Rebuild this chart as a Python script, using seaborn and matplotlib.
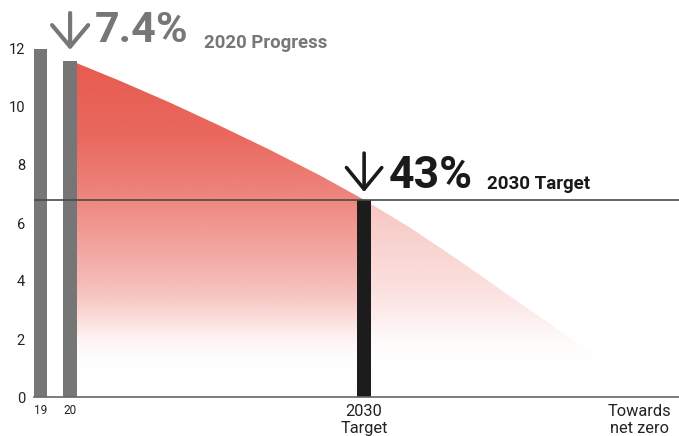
import numpy as np
import pandas as pd
import matplotlib
matplotlib.use("Agg")
import matplotlib.pyplot as plt
import seaborn as sns

# ---- data ----
bar_x = [2019, 2020, 2030]
bar_values = [12.0, 11.6, 6.8]
bar_names = ["2019", "2020", "2030 Target"]
bar_colors = ["#767676", "#767676", "#1c1c1c"]

curve_x = [2020.23, 2021.70, 2023.40, 2025.10, 2026.80, 2028.50, 2030.0,
           2031.56, 2033.27, 2034.97, 2036.67, 2037.79, 2039.80]
curve_y = [11.51, 10.90, 10.15, 9.35, 8.52, 7.64, 6.80,
           5.84, 4.68, 3.47, 2.28, 1.49, 0.0]

target_level = 6.8
tick_pos = [2019, 2020, 2030, 2039.35]
tick_labels = ["19", "20", "2030\nTarget", "Towards\nnet zero"]
y_ticks = [0, 2, 4, 6, 8, 10, 12]

progress_label = "7.4%"
progress_text = "2020 Progress"
target_label = "43%"
target_text = "2030 Target"

# ---- style ----
sns.set_style("white")
plt.rcParams['font.family'] = ['Roboto', 'DejaVu Sans']

XLIM = (2018.772, 2040.71)
YLIM = (0, 12)

fig = plt.figure(figsize=(6.79, 4.36), dpi=100)
ax = fig.add_axes([34 / 679, 39 / 436, 645 / 679, 348 / 436])

df = pd.DataFrame({"x": bar_x, "v": bar_values, "name": bar_names})
sns.barplot(data=df, x="x", y="v", hue="name",
            palette=dict(zip(bar_names, bar_colors)),
            native_scale=True, width=0.456, dodge=False, legend=False,
            errorbar=None, saturation=1, ax=ax, zorder=3, linewidth=0)

# gradient-filled area under the pathway curve
cx = np.array(curve_x)
cy = np.array(curve_y)
split = curve_x.index(2030.0)
left_poly = ax.fill_between(cx[:split + 1], cy[:split + 1], 0, color='none', lw=0)
right_poly = ax.fill_between(cx[split:], cy[split:], 0, color='none', lw=0)

yy = np.linspace(0, 12, 600)
alpha = np.interp(yy, [0, 1.3, 2, 3.3, 4, 6.8, 9, 11.6],
                  [0, 0.01, 0.07, 0.32, 0.42, 0.73, 0.92, 1.0])
base = np.array([232, 90, 79]) / 255.0


def grad_image(scale):
    img = np.zeros((len(yy), 1, 4))
    img[..., :3] = base
    img[..., 3] = (alpha * scale)[:, None]
    return img


for poly, scale in [(left_poly, 1.0), (right_poly, 0.48)]:
    im = ax.imshow(grad_image(scale), extent=[XLIM[0], XLIM[1], 0, 12],
                   origin='lower', aspect='auto', zorder=1, interpolation='bilinear')
    im.set_clip_path(poly.get_paths()[0], transform=ax.transData)

ax.axhline(target_level, color='#4a4a4a', lw=1.2, zorder=5)

ax.set_xlim(*XLIM)
ax.set_ylim(*YLIM)

# ticks
ax.set_yticks(y_ticks)
ax.set_yticklabels([str(t) for t in y_ticks])
ax.set_xticks(tick_pos)
ax.set_xticklabels(tick_labels)
ax.tick_params(axis='y', length=0, pad=6.5, labelsize=10.5, labelcolor='#222222')
ax.tick_params(axis='x', length=0, pad=5.0, labelsize=11.8, labelcolor='#222222')
for lbl in ax.get_xticklabels()[:2]:
    lbl.set_fontsize(8.5)
ax.set_xlabel("")
ax.set_ylabel("")

sns.despine(ax=ax, left=True)
ax.spines['bottom'].set_color('#666666')
ax.spines['bottom'].set_linewidth(1.2)
ax.spines['bottom'].set_zorder(6)

# annotations
ax.annotate('', xy=(bar_x[1], 11.97), xytext=(bar_x[1], 13.24),
            arrowprops=dict(arrowstyle='->,head_length=1.55,head_width=1.3',
                            color='#777777', lw=3.0, shrinkA=0, shrinkB=0),
            annotation_clip=False)
ax.text(2020.85, 12.24, progress_label, fontsize=31, fontweight='bold',
        color='#777777', ha='left', va='baseline')
ax.text(2024.56, 12.03, progress_text, fontsize=13.4, fontweight='bold',
        color='#777777', ha='left', va='baseline')

ax.annotate('', xy=(bar_x[2], 7.07), xytext=(bar_x[2], 8.41),
            arrowprops=dict(arrowstyle='->,head_length=1.55,head_width=1.27',
                            color='#1a1a1a', lw=2.6, shrinkA=0, shrinkB=0),
            annotation_clip=False)
ax.text(2030.85, 7.21, target_label, fontsize=32, fontweight='bold',
        color='#1a1a1a', ha='left', va='baseline')
ax.text(2034.18, 7.17, target_text, fontsize=13.5, fontweight='bold',
        color='#1a1a1a', ha='left', va='baseline')

fig.savefig("out.png", dpi=100)
